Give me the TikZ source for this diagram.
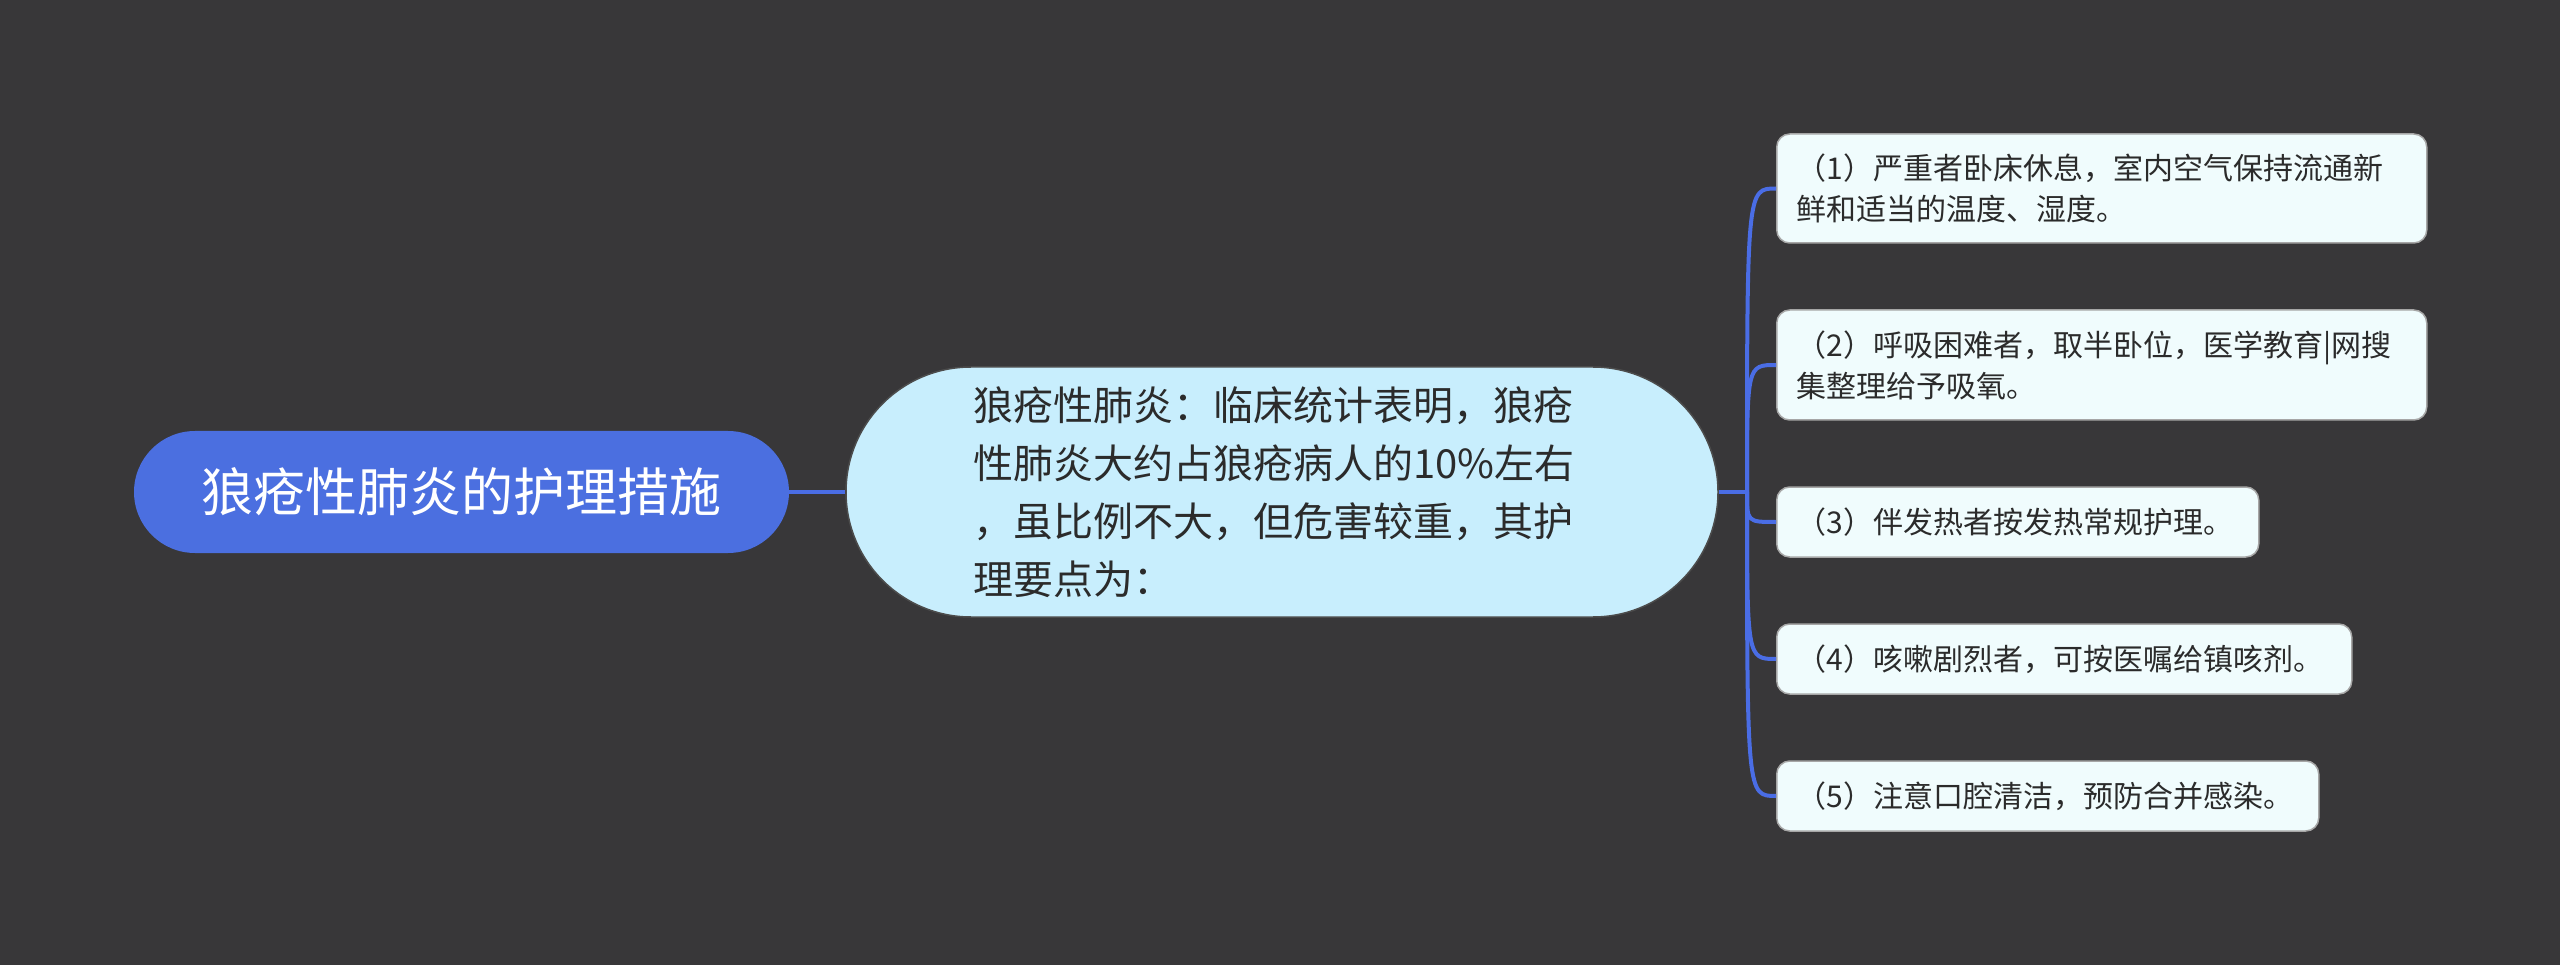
\documentclass[tikz,border=0pt]{standalone}
\usepackage{fontspec}
\setmainfont{Noto Sans CJK SC}
\definecolor{bgc}{HTML}{383739}
\definecolor{rootc}{HTML}{4B6FE0}
\definecolor{midc}{HTML}{C8EEFD}
\definecolor{leafc}{HTML}{F0FCFD}
\definecolor{linec}{HTML}{4A6DE5}
\definecolor{txtc}{HTML}{2B2B2B}
\tikzset{
  rootbox/.style={rectangle, rounded corners=61pt, fill=rootc, text=white,
    minimum width=655pt, minimum height=122pt, inner sep=0pt,
    font=\fontsize{52}{60}\selectfont},
  midbox/.style={rectangle, rounded corners=125pt, fill=midc, draw=black!70, line width=1.5pt,
    minimum width=872pt, minimum height=250pt, inner sep=0pt, text=txtc,
    text width=618pt, align=left, font=\fontsize{40}{58}\selectfont},
  leafbox/.style={rectangle, rounded corners=13pt, fill=leafc, draw=black!35, line width=1.5pt,
    anchor=west, inner xsep=20pt, inner ysep=0pt, text=txtc, align=left,
    font=\fontsize{30}{41}\selectfont},
  conn/.style={draw=linec, line width=4pt}
}
\begin{document}
\begin{tikzpicture}[x=1pt,y=-1pt]
\useasboundingbox[fill=bgc] (0,0) rectangle (2560,965);
\node[rootbox] (root) at (461.5,492) {狼疮性肺炎的护理措施};
\node[midbox] (mid) at (1282,492) {狼疮性肺炎：临床统计表明，狼疮\\性肺炎大约占狼疮病人的10\%左右\\，虽比例不大，但危害较重，其护\\理要点为：};
\coordinate (hub) at (1747,492);
\node[leafbox, text width=610pt, minimum height=109pt] (l1) at (1776,188.5) {（1）严重者卧床休息，室内空气保持流通新\\鲜和适当的温度、湿度。};
\node[leafbox, text width=610pt, minimum height=110pt] (l2) at (1776,365) {（2）呼吸困难者，取半卧位，医学教育|网搜\\集整理给予吸氧。};
\node[leafbox, text width=442pt, minimum height=70pt] (l3) at (1776,522) {（3）伴发热者按发热常规护理。};
\node[leafbox, text width=535pt, minimum height=70pt] (l4) at (1776,659) {（4）咳嗽剧烈者，可按医嘱给镇咳剂。};
\node[leafbox, text width=502pt, minimum height=70pt] (l5) at (1776,796) {（5）注意口腔清洁，预防合并感染。};
\draw[conn] (root.east) -- (mid.west);
\draw[conn] (mid.east) -- (hub);
\foreach \n in {l1,l2,l3,l4,l5}{
  \draw[conn] (hub) .. controls (hub |- \n.west) .. (\n.west);
}
\end{tikzpicture}
\end{document}
